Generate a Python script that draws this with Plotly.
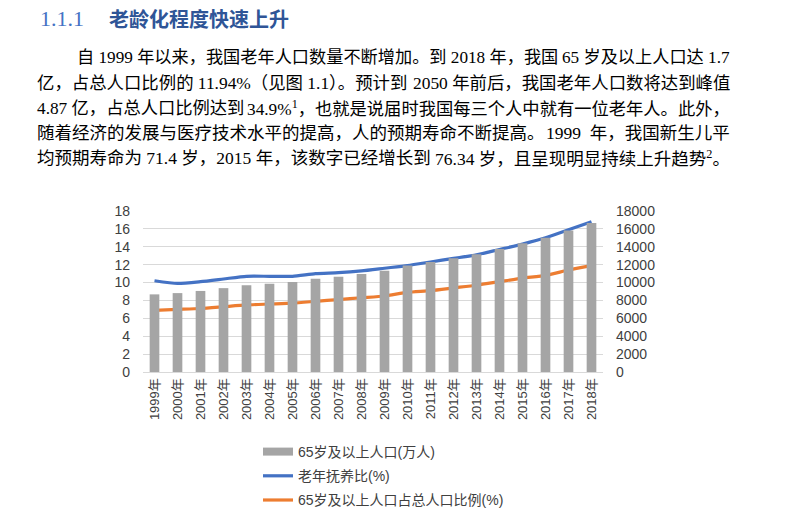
import plotly.graph_objects as go

years = ["1999年", "2000年", "2001年", "2002年", "2003年", "2004年", "2005年", "2006年", "2007年", "2008年",
         "2009年", "2010年", "2011年", "2012年", "2013年", "2014年", "2015年", "2016年", "2017年", "2018年"]
pop65 = [8679, 8821, 9062, 9377, 9692, 9857, 10055, 10419, 10636, 10956,
         11307, 11894, 12288, 12714, 13161, 13755, 14386, 15003, 15831, 16658]
dependency = [10.2, 9.9, 10.1, 10.4, 10.7, 10.7, 10.7, 11.0, 11.1, 11.3,
              11.6, 11.9, 12.3, 12.7, 13.1, 13.7, 14.3, 15.0, 15.9, 16.8]
share65 = [6.9, 7.0, 7.1, 7.3, 7.5, 7.6, 7.7, 7.9, 8.1, 8.3,
           8.5, 8.9, 9.1, 9.4, 9.7, 10.1, 10.5, 10.8, 11.4, 11.9]

left_ticks = list(range(0, 19, 2))
right_ticks = list(range(0, 18001, 2000))

heading_num = "1.1.1"
heading_text = "老龄化程度快速上升"
# each paragraph line as (left part, right part) so the line can be justified
para_lines = [
    ("自 1999 年以来，我国老年人口数量不断增加。到 2018 年，我国", "65 岁及以上人口达 1.7"),
    ("亿，占总人口比例的 11.94%（见图 1.1）。预计到", "2050 年前后，我国老年人口数将达到峰值"),
    ("4.87 亿，占总人口比例达到", "34.9%<sup>1</sup>，也就是说届时我国每三个人中就有一位老年人。此外，"),
    ("随着经济的发展与医疗技术水平的提高，人的预期寿命不断提高。", "1999  年，我国新生儿平"),
    ("均预期寿命为 71.4 岁，2015 年，该数字已经增长到", "76.34 岁，且呈现明显持续上升趋势<sup>2</sup>。"),
]

W, H = 802, 525
L, R, T, B = 143, 603, 211, 372


def px(x):
    return (x - L) / (R - L)


def py(y):
    return (B - y) / (B - T)


SANS = "Liberation Sans, Arial, Noto Sans CJK SC"
SERIF = "Liberation Serif, Times New Roman, Noto Sans CJK SC"

fig = go.Figure()
fig.add_trace(go.Bar(x=years, y=pop65, name="65岁及以上人口(万人)", marker_color="#A5A5A5",
                     marker_line_width=0, yaxis="y2", showlegend=False))
fig.add_trace(go.Scatter(x=[None], y=[None], name="65岁及以上人口(万人)", mode="lines",
                         line=dict(color="#A5A5A5", width=8), yaxis="y2", legendgroup="a"))
fig.add_trace(go.Scatter(x=years, y=dependency, name="老年抚养比(%)", mode="lines",
                         line=dict(color="#4472C4", width=3.2, shape="spline", smoothing=0.6),
                         yaxis="y", legendgroup="b"))
fig.add_trace(go.Scatter(x=years, y=share65, name="65岁及以上人口占总人口比例(%)", mode="lines",
                         line=dict(color="#ED7D31", width=3.2, shape="spline", smoothing=0.6),
                         yaxis="y", legendgroup="c"))

annotations = [
    dict(text=heading_num, x=px(39), y=py(18), xanchor="left",
         font=dict(family="Liberation Serif", size=22, color="#4472C4")),
    dict(text="<b>" + heading_text + "</b>", x=px(108), y=py(18), xanchor="left",
         font=dict(family="Noto Sans CJK SC", size=20, color="#2F5597")),
]
starts = [(76, 57), (36, 83), (36, 108), (36, 133), (36, 158)]
sizes = [17.2, 17.4, 17.3, 17.5, 17.5]
for (left, right), (sx, sy), fs in zip(para_lines, starts, sizes):
    annotations.append(dict(text=left, x=px(sx), y=py(sy), xanchor="left",
                            font=dict(family=SERIF, size=fs, color="#000000")))
    annotations.append(dict(text=right, x=px(731), y=py(sy), xanchor="right",
                            font=dict(family=SERIF, size=fs, color="#000000")))
for a in annotations:
    a.update(xref="paper", yref="paper", yanchor="middle", showarrow=False, borderpad=0)

fig.update_layout(
    width=W, height=H,
    margin=dict(l=L, r=W - R, t=T, b=H - B, pad=0, autoexpand=False),
    paper_bgcolor="white", plot_bgcolor="white",
    bargap=0.58,
    font=dict(family=SANS, color="#595959", size=14),
    xaxis=dict(type="category", tickangle=-90, tickfont=dict(size=13, color="#404040"),
               showline=True, linecolor="#D9D9D9", linewidth=1, ticks="", showgrid=False,
               automargin=False),
    yaxis=dict(range=[0, 18], tickvals=left_ticks, showgrid=True, gridcolor="#D9D9D9", gridwidth=1,
               zeroline=False, ticks="", tickfont=dict(size=14, color="#404040"), ticklabelstandoff=12,
               automargin=False),
    yaxis2=dict(range=[0, 18000], tickvals=right_ticks, tickformat="d", overlaying="y", side="right",
                showgrid=False, zeroline=False, ticks="", tickfont=dict(size=14, color="#404040"),
                ticklabelstandoff=12, automargin=False),
    showlegend=True,
    legend=dict(x=px(258), y=py(436), xanchor="left", yanchor="top", orientation="v",
                traceorder="grouped", tracegroupgap=3,
                font=dict(family=SANS, size=14, color="#404040"), bgcolor="rgba(0,0,0,0)"),
    annotations=annotations,
)

fig.write_html("out.html", config={"displayModeBar": False},
               post_script="document.body.style.margin='0';")
